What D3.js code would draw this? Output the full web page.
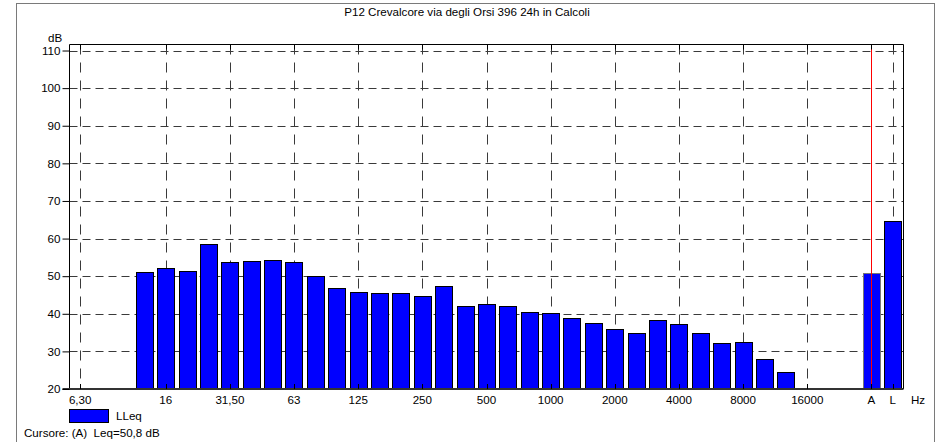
<!DOCTYPE html>
<html>
<head>
<meta charset="utf-8">
<script src="https://cdn.jsdelivr.net/npm/d3@7/dist/d3.min.js"></script>
<style>
  html, body { margin: 0; padding: 0; background: #fff; }
  svg { display: block; font-family: "Liberation Sans", Arial, sans-serif; }
  svg text { white-space: pre; }
</style>
</head>
<body>
<svg id="chart" width="937" height="442"></svg>
<script>
// Third-octave bands (Hz) followed by a spacer slot and the A / L overall levels
const bands = ["6,3","8","10","12,5","16","20","25","31,5","40","50","63","80","100","125","160","200","250","315","400","500","630","800","1000","1250","1600","2000","2500","3150","4000","5000","6300","8000","10000","12500","16000","20000","_gap","A","L"];
// LLeq per band, dB (null = no level shown)
const lleq = [null,null,null,51.2,52.2,51.4,58.6,53.8,54.1,54.4,53.8,50.1,46.9,45.9,45.6,45.5,44.7,47.4,42.1,42.6,42.1,40.6,40.1,38.8,37.6,35.9,34.8,38.3,37.2,34.9,32.1,32.6,27.9,24.4,null,null,null,50.8,64.7];
// Labelled bands on the frequency axis
const tickBands = ["6,3","16","31,5","63","125","250","500","1000","2000","4000","8000","16000","A","L"];
const tickLabels = ["6,30","16","31,50","63","125","250","500","1000","2000","4000","8000","16000","A","L"];
const yTicks = [20,30,40,50,60,70,80,90,100,110];
const title = "P12 Crevalcore via degli Orsi 396 24h in Calcoli";
const cursorBand = "A";
const cursorText = "Cursore: (A)  Leq=50,8 dB";
const seriesName = "LLeq";

(function draw() {
  const svg = d3.select("#chart");
  const pl = 69.5, pr = 903.5, pt = 44.5, pb = 389;
  const fs = 11.6;

  const x = d3.scaleBand().domain(bands).range([pl, pr]).paddingInner(0.2).paddingOuter(0.1);
  const y = d3.scaleLinear().domain([20, 111.6]).range([pb, pt]);

  // outer frame
  svg.append("rect").attr("x", 16.5).attr("y", 3.5).attr("width", 918).attr("height", 450)
    .attr("fill", "none").attr("stroke", "#7a7a7a").attr("stroke-width", 1);

  // title
  svg.append("text").attr("x", 467).attr("y", 16).attr("text-anchor", "middle")
    .attr("font-size", fs).attr("fill", "#000").text(title);

  const cx = b => x(b) + x.bandwidth() / 2;

  // horizontal grid
  svg.append("g").selectAll("line").data(yTicks.filter(d => d > 20)).join("line")
    .attr("x1", pl).attr("x2", pr)
    .attr("y1", d => Math.round(y(d)) + 0.5).attr("y2", d => Math.round(y(d)) + 0.5)
    .attr("stroke", "#3a3a3a").attr("stroke-dasharray", "8,5");

  // vertical grid
  svg.append("g").selectAll("line").data(tickBands).join("line")
    .attr("x1", d => Math.round(cx(d)) + 0.5).attr("x2", d => Math.round(cx(d)) + 0.5)
    .attr("y1", pt).attr("y2", pb)
    .attr("stroke", "#3a3a3a").attr("stroke-dasharray", "10,8");

  // bars
  const data = bands.map((b, i) => ({ band: b, v: lleq[i] })).filter(d => d.v != null);
  svg.append("g").selectAll("rect").data(data).join("rect")
    .attr("x", d => Math.round(x(d.band)) + 0.5)
    .attr("y", d => Math.round(y(d.v)) + 0.5)
    .attr("width", Math.round(x.bandwidth()))
    .attr("height", d => pb - Math.round(y(d.v)) - 0.5)
    .attr("fill", "#0000ff")
    .attr("stroke", d => d.band === cursorBand ? "#777" : "#000")
    .attr("stroke-width", 1);

  // cursor
  svg.append("line")
    .attr("x1", Math.round(cx(cursorBand)) + 0.5).attr("x2", Math.round(cx(cursorBand)) + 0.5)
    .attr("y1", pt).attr("y2", pb)
    .attr("stroke", "#ff0000").attr("stroke-width", 1);

  // plot frame
  svg.append("path")
    .attr("d", `M${pl},${pb}V${pt}H${pr}V${pb}`)
    .attr("fill", "none").attr("stroke", "#000");
  svg.append("line").attr("x1", pl - 7).attr("x2", pr).attr("y1", pb).attr("y2", pb)
    .attr("stroke", "#333").attr("stroke-width", 2);

  // y axis
  const yAxis = d3.axisLeft(y).tickValues(yTicks).tickSize(7).tickPadding(2);
  const gy = svg.append("g").attr("transform", `translate(${pl},0)`).call(yAxis);
  gy.select(".domain").remove();
  gy.selectAll(".tick line").attr("stroke", "#000");
  gy.selectAll(".tick text").attr("font-size", fs).attr("font-family", "Liberation Sans, Arial, sans-serif").attr("fill", "#000");
  svg.append("text").attr("x", 48).attr("y", 42).attr("font-size", fs).text("dB");

  // x axis
  const labelOf = new Map(tickBands.map((b, i) => [b, tickLabels[i]]));
  const xAxis = d3.axisBottom(x).tickValues(tickBands).tickFormat(b => labelOf.get(b)).tickSize(0).tickPadding(7);
  const gx = svg.append("g").attr("transform", `translate(0,${pb})`).call(xAxis);
  gx.select(".domain").remove();
  gx.selectAll(".tick text").attr("font-size", fs).attr("font-family", "Liberation Sans, Arial, sans-serif").attr("fill", "#000");
  // inner ticks on top and bottom frame
  svg.append("g").selectAll("path").data(tickBands).join("path")
    .attr("d", d => { const px = Math.round(cx(d)) + 0.5; return `M${px},${pt}v5M${px},${pb}v-5`; })
    .attr("stroke", "#000");
  svg.append("text").attr("x", 918).attr("y", 404).attr("text-anchor", "middle").attr("font-size", fs).text("Hz");

  // legend
  svg.append("rect").attr("x", 69.5).attr("y", 409.5).attr("width", 39).attr("height", 13)
    .attr("fill", "#0000ff").attr("stroke", "#000");
  svg.append("text").attr("x", 116).attr("y", 420).attr("font-size", fs).text(seriesName);
  svg.append("text").attr("x", 24).attr("y", 437).attr("font-size", fs).text(cursorText);
})();
</script>
</body>
</html>
